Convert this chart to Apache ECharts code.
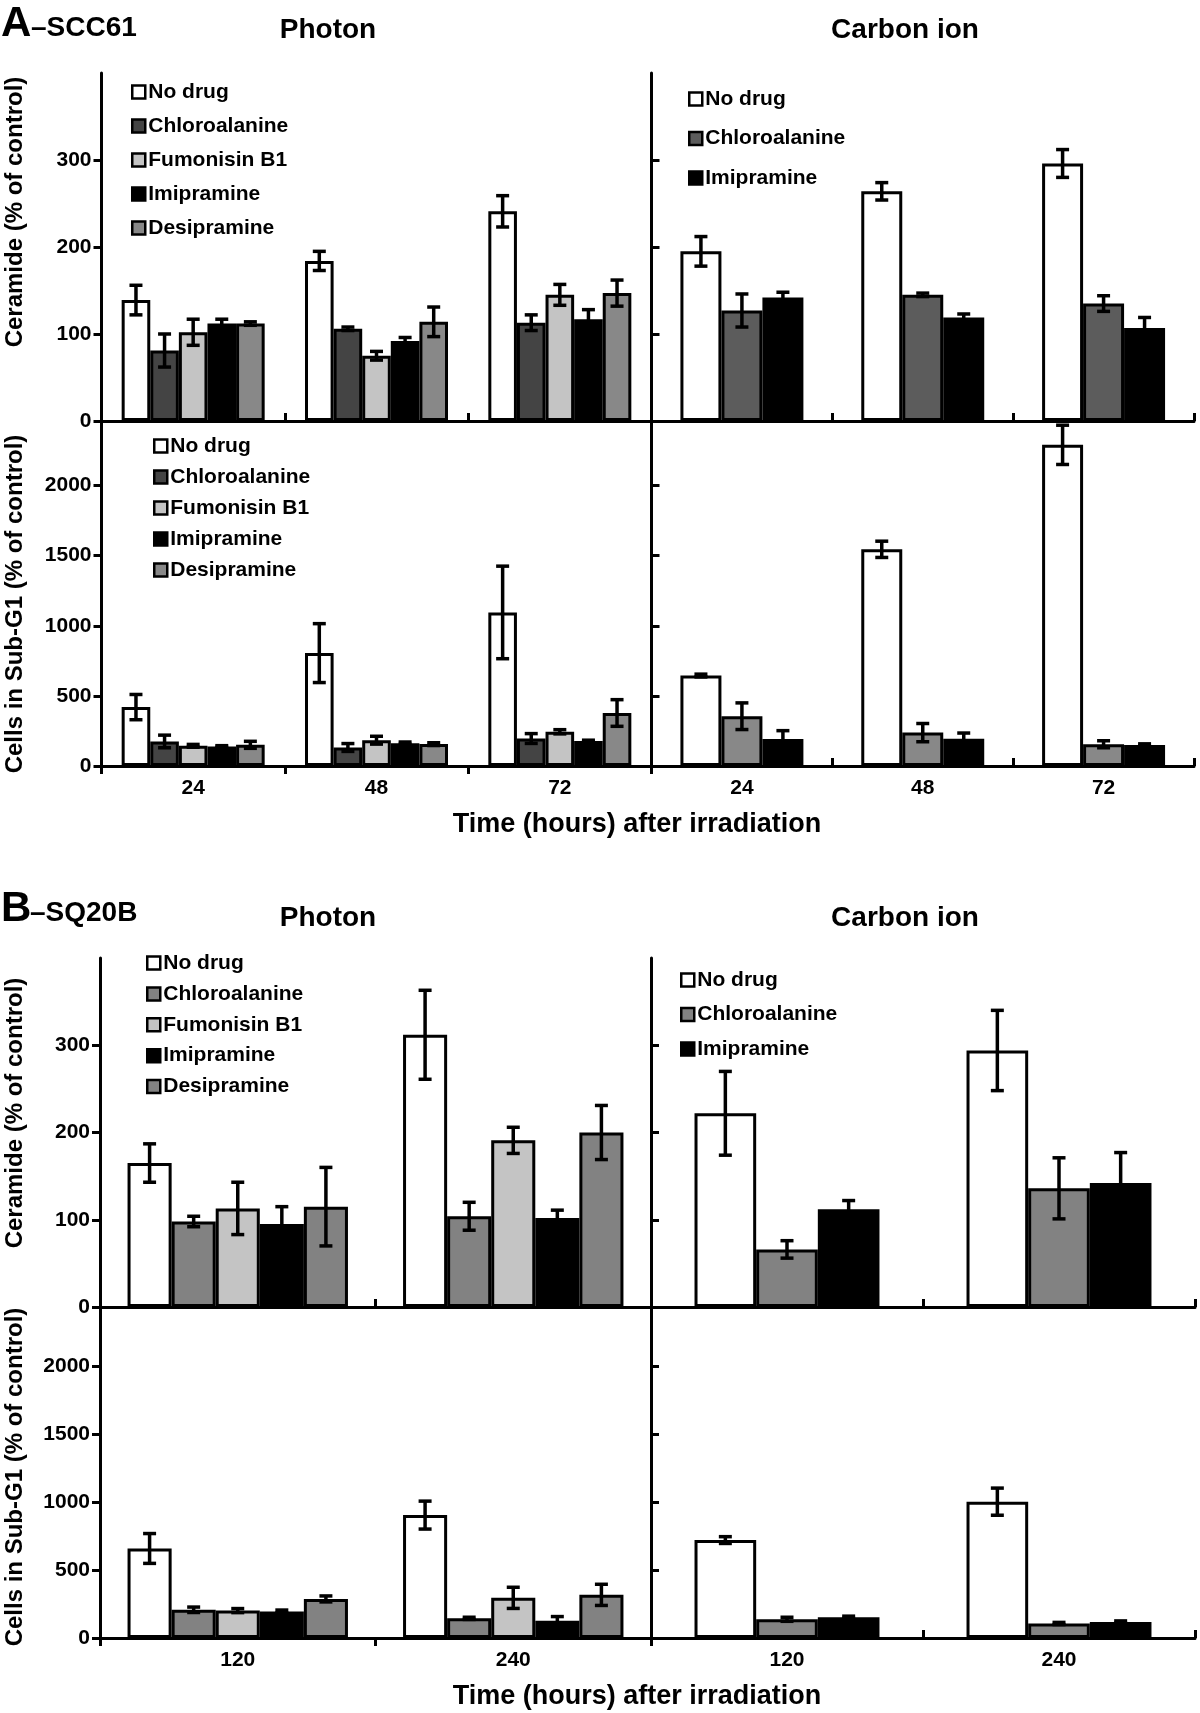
<!DOCTYPE html>
<html><head><meta charset="utf-8">
<script src="https://cdn.jsdelivr.net/npm/echarts@6/dist/echarts.min.js"></script>
<style>html,body{margin:0;padding:0;background:#fff}#chart{width:1200px;height:1713px}</style>
</head><body><div id="chart"></div>
<script>
// ---------- categories / tick labels ----------
const timesA = ['24', '48', '72'];
const timesB = ['120', '240'];
const drugs5 = ['No drug', 'Chloroalanine', 'Fumonisin B1', 'Imipramine', 'Desipramine'];
const drugs3 = ['No drug', 'Chloroalanine', 'Imipramine'];
const ceramideTicks = [0, 100, 200, 300];
const subG1Ticks = [0, 500, 1000, 1500, 2000];

// ---------- A – SCC61 (rows follow the drug list, columns follow timesA) ----------
const aCerPhotonMean = [[139, 184, 241], [81, 106, 113], [102, 75, 145], [112, 92, 117], [112, 114, 147]];
const aCerPhotonErr  = [[17, 11, 18], [19, 2, 9], [15, 5, 12], [5, 4, 11], [2, 17, 15]];
const aCerCarbonMean = [[195, 264, 296], [127, 145, 135], [142, 119, 107]];
const aCerCarbonErr  = [[17, 10, 16], [19, 2, 9], [6, 4, 12]];
const aSubPhotonMean = [[420, 805, 1095], [175, 132, 196], [144, 184, 244], [139, 163, 179], [151, 156, 378]];
const aSubPhotonErr  = [[90, 210, 330], [45, 28, 35], [10, 28, 15], [6, 8, 5], [25, 10, 95]];
const aSubCarbonMean = [[645, 1545, 2290], [355, 238, 155], [192, 195, 150]];
const aSubCarbonErr  = [[10, 58, 140], [95, 65, 25], [60, 40, 8]];

// ---------- B – SQ20B (columns follow timesB) ----------
const bCerPhotonMean = [[165, 312], [98, 104], [113, 191], [95, 102], [115, 200]];
const bCerPhotonErr  = [[22, 51], [6, 16], [30, 15], [20, 9], [45, 31]];
const bCerCarbonMean = [[222, 294], [66, 136], [112, 142]];
const bCerCarbonErr  = [[48, 46], [10, 35], [10, 35]];
const bSubPhotonMean = [[660, 906], [208, 145], [202, 296], [196, 128], [288, 318]];
const bSubPhotonErr  = [[110, 103], [20, 8], [15, 78], [10, 30], [22, 78]];
const bSubCarbonMean = [[722, 1005], [138, 107], [153, 118]];
const bSubCarbonErr  = [[25, 100], [15, 8], [8, 8]];

// ---------- styles ----------
const FONT = '"Liberation Sans", Arial, Helvetica, sans-serif';
const colA5 = ['#ffffff', '#444444', '#c4c4c4', '#000000', '#888888'];
const colA3top = ['#ffffff', '#5c5c5c', '#000000'];
const colA3bot = ['#ffffff', '#888888', '#000000'];
const colB5 = ['#ffffff', '#828282', '#c4c4c4', '#000000', '#828282'];
const colB3 = ['#ffffff', '#828282', '#000000'];

const grids = [
  {left: 101.5, top: 73, width: 550, height: 348},    // 0 A ceramide photon
  {left: 651.5, top: 73, width: 542.5, height: 348},  // 1 A ceramide carbon
  {left: 101.5, top: 421, width: 550, height: 345},   // 2 A subG1 photon
  {left: 651.5, top: 421, width: 542.5, height: 345}, // 3 A subG1 carbon
  {left: 100, top: 958, width: 551, height: 349},     // 4 B ceramide photon
  {left: 651, top: 958, width: 544, height: 349},     // 5 B ceramide carbon
  {left: 100, top: 1307, width: 551, height: 331},    // 6 B subG1 photon
  {left: 651, top: 1307, width: 544, height: 331}     // 7 B subG1 carbon
];

const xAxes = [], yAxes = [], series = [];

function addX(g, cats, showLabels, tickInside) {
  xAxes.push({
    type: 'category', gridIndex: g, data: cats, boundaryGap: true,
    axisLine: {show: true, lineStyle: {color: '#000', width: 3}},
    axisTick: {show: true, inside: tickInside, length: 8, interval: 0, lineStyle: {color: '#000', width: 3}},
    axisLabel: {show: showLabels, interval: 0, color: '#000', fontFamily: FONT, fontWeight: 'bold', fontSize: 21, margin: 12},
    splitLine: {show: false}
  });
}
function addY(g, max, ticks, step, showLabels) {
  yAxes.push({
    type: 'value', gridIndex: g, min: 0, max: max, interval: step,
    axisLine: {show: true, lineStyle: {color: '#000', width: 3}},
    axisTick: {show: true, inside: !showLabels, length: 8, customValues: ticks, lineStyle: {color: '#000', width: 3}},
    axisLabel: {show: showLabels, customValues: ticks, color: '#000', fontFamily: FONT, fontWeight: 'bold', fontSize: 21, margin: 10,
      formatter: v => (ticks.indexOf(v) >= 0 ? String(v) : '')},
    splitLine: {show: false}
  });
}
function errRender(n, idx, gapFrac) {
  return function (params, api) {
    const cat = api.value(0), mean = api.value(1), err = api.value(2);
    const catW = api.size([1, 0])[0];
    const barW = catW * (1 - gapFrac) / n;
    const xc = api.coord([cat, 0])[0] + (idx - (n - 1) / 2) * barW;
    const yTop = api.coord([cat, mean + err])[1];
    const yBot = api.coord([cat, Math.max(mean - err, 0)])[1];
    const cap = 6.5;
    const st = {stroke: '#000', lineWidth: 3.5};
    return {type: 'group', children: [
      {type: 'line', shape: {x1: xc, y1: yTop, x2: xc, y2: yBot}, style: st},
      {type: 'line', shape: {x1: xc - cap, y1: yTop, x2: xc + cap, y2: yTop}, style: st},
      {type: 'line', shape: {x1: xc - cap, y1: yBot, x2: xc + cap, y2: yBot}, style: st}
    ]};
  };
}
function addBars(g, drugs, means, errs, colors, gapFrac) {
  drugs.forEach((name, i) => {
    series.push({
      type: 'bar', name: name, xAxisIndex: g, yAxisIndex: g, data: means[i],
      barGap: '0%', barCategoryGap: (gapFrac * 100) + '%', silent: true, z: 2,
      itemStyle: {color: colors[i], borderColor: '#000', borderWidth: 3}
    });
    series.push({
      type: 'custom', xAxisIndex: g, yAxisIndex: g, silent: true, z: 5,
      renderItem: errRender(drugs.length, i, gapFrac),
      encode: {x: 0, y: 1},
      data: means[i].map((m, j) => [j, m, errs[i][j]])
    });
  });
}

// Panel A
addX(0, timesA, false, true);  addY(0, 400, ceramideTicks, 100, true);
addX(1, timesA, false, true);  addY(1, 400, ceramideTicks, 100, false);
addX(2, timesA, true, false);  addY(2, 2460, subG1Ticks, 500, true);
addX(3, timesA, true, true);   addY(3, 2460, subG1Ticks, 500, false);
// Panel B
addX(4, timesB, false, true);  addY(4, 400, ceramideTicks, 100, true);
addX(5, timesB, false, true);  addY(5, 400, ceramideTicks, 100, false);
addX(6, timesB, true, false);  addY(6, 2440, subG1Ticks, 500, true);
addX(7, timesB, true, true);   addY(7, 2440, subG1Ticks, 500, false);

addBars(0, drugs5, aCerPhotonMean, aCerPhotonErr, colA5, 0.22);
addBars(1, drugs3, aCerCarbonMean, aCerCarbonErr, colA3top, 0.32);
addBars(2, drugs5, aSubPhotonMean, aSubPhotonErr, colA5, 0.22);
addBars(3, drugs3, aSubCarbonMean, aSubCarbonErr, colA3bot, 0.32);
addBars(4, drugs5, bCerPhotonMean, bCerPhotonErr, colB5, 0.20);
addBars(5, drugs3, bCerCarbonMean, bCerCarbonErr, colB3, 0.32);
addBars(6, drugs5, bSubPhotonMean, bSubPhotonErr, colB5, 0.20);
addBars(7, drugs3, bSubCarbonMean, bSubCarbonErr, colB3, 0.32);

function legendOf(drugs, colors, left, top, gap) {
  return {
    left: left, top: top, orient: 'vertical', icon: 'rect', itemWidth: 13, itemHeight: 13, itemGap: gap,
    selectedMode: false, padding: 0,
    textStyle: {color: '#000', fontFamily: FONT, fontWeight: 'bold', fontSize: 21, lineHeight: 21, padding: [0, 0, 0, -2]},
    data: drugs.map((d, i) => ({name: d, itemStyle: {color: colors[i], borderColor: '#000', borderWidth: 2.5}}))
  };
}
const legends = [
  legendOf(drugs5, colA5, 131, 81.5, 13),
  legendOf(drugs3, colA3top, 688, 88.5, 18.5),
  legendOf(drugs5, colA5, 153, 435.5, 10),
  legendOf(drugs5, colB5, 146, 952.5, 9.9),
  legendOf(drugs3, colB3, 680, 969.5, 13.5)
];

function txt(x, y, text, size, align, rot) {
  return {
    type: 'text', x: x, y: y, rotation: rot || 0, silent: true,
    style: {text: text, fill: '#000', font: 'bold ' + size + 'px ' + FONT,
      textAlign: align, textVerticalAlign: 'middle', align: align, verticalAlign: 'middle'}
  };
}
const R = Math.PI / 2;
const graphics = [
  txt(1, 24, 'A', 42, 'left'), txt(31, 28.5, '–SCC61', 28, 'left'),
  txt(328, 30, 'Photon', 28, 'center'), txt(905, 30, 'Carbon ion', 28, 'center'),
  txt(15, 212, 'Ceramide (% of control)', 24, 'center', R),
  txt(15, 604, 'Cells in Sub-G1 (% of control)', 24, 'center', R),
  txt(637, 825, 'Time (hours) after irradiation', 27, 'center'),
  txt(1, 909, 'B', 42, 'left'), txt(30, 913, '–SQ20B', 28, 'left'),
  txt(328, 918, 'Photon', 28, 'center'), txt(905, 918, 'Carbon ion', 28, 'center'),
  txt(15, 1113, 'Ceramide (% of control)', 24, 'center', R),
  txt(15, 1477, 'Cells in Sub-G1 (% of control)', 24, 'center', R),
  txt(637, 1697, 'Time (hours) after irradiation', 27, 'center')
];

const chart = echarts.init(document.getElementById('chart'), null, {renderer: 'canvas'});
chart.setOption({
  backgroundColor: '#ffffff',
  animation: false,
  grid: grids,
  xAxis: xAxes,
  yAxis: yAxes,
  legend: legends,
  series: series,
  graphic: graphics
});
</script></body></html>
